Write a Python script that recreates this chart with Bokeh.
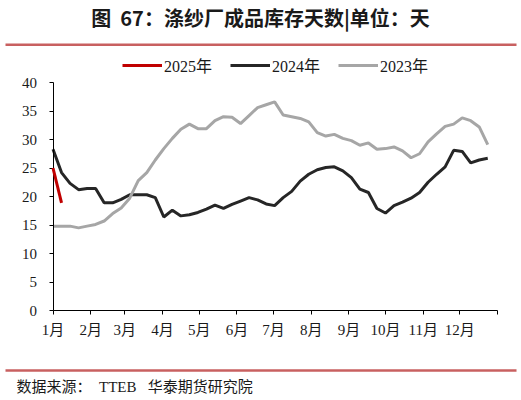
from bokeh.plotting import figure
from bokeh.models import (ColumnDataSource, FixedTicker, Legend, LegendItem,
                          Label, BoxAnnotation, Range1d)
from bokeh.embed import file_html
from bokeh.resources import INLINE

# ---- data ----
month_start_days = [0, 31, 59, 90, 120, 151, 181, 212, 243, 273, 304, 334, 365]
month_labels = ["1月", "2月", "3月", "4月", "5月", "6月", "7月", "8月",
                "9月", "10月", "11月", "12月", ""]
y_ticks = [0, 5, 10, 15, 20, 25, 30, 35, 40]

s2025 = [25.0, 18.9]
s2024 = [28.3, 24.2, 22.3, 21.2, 21.4, 21.4, 18.9, 18.9, 19.5, 20.3, 20.3,
         20.3, 19.8, 16.4, 17.6, 16.6, 16.8, 17.2, 17.8, 18.5, 17.9, 18.6,
         19.2, 19.8, 19.4, 18.7, 18.4, 19.8, 20.9, 22.7, 23.9, 24.7, 25.1,
         25.2, 24.5, 23.3, 21.3, 20.7, 17.9, 17.1, 18.4, 19.0, 19.7, 20.7,
         22.5, 23.9, 25.2, 28.1, 27.9, 25.9, 26.4, 26.7]
s2023 = [14.8, 14.8, 14.8, 14.5, 14.8, 15.1, 15.7, 17.0, 18.0, 19.7, 22.8,
         24.2, 26.4, 28.4, 30.2, 31.8, 32.7, 31.9, 31.9, 33.3, 34.0, 33.9,
         32.8, 34.2, 35.6, 36.1, 36.6, 34.3, 34.0, 33.7, 33.1, 31.2, 30.6,
         30.9, 30.2, 29.8, 29.0, 29.4, 28.3, 28.4, 28.7, 28.0, 26.8, 27.5,
         29.6, 31.0, 32.3, 32.7, 33.8, 33.3, 32.2, 29.1]
series_names = ["2025年", "2024年", "2023年"]
series_colors = ["#C00000", "#262626", "#A6A6A6"]

title_text = "图\u00a0 67：涤纱厂成品库存天数|单位：天"
source_text = "数据来源：\u00a0\u00a0TTEB\u00a0\u00a0\u00a0华泰期货研究院"

SERIF = "'Liberation Serif', 'Noto Sans CJK SC'"
CJK = "'Noto Sans CJK SC'"

W, H = 521, 400
# frame covers the whole canvas; axes are drawn at fixed locations with bounds
px_per_day = (497 - 52.5) / 365.0
px_per_unit = (310 - 82) / 40.0
x0 = -52.5 / px_per_day
x1 = 365 + (W - 497) / px_per_day
y0 = -(H - 310) / px_per_unit
y1 = 40 + 82 / px_per_unit

p = figure(width=W, height=H, output_backend="svg", toolbar_location=None,
           x_range=Range1d(x0, x1), y_range=Range1d(y0, y1),
           min_border=0)
p.outline_line_color = None
p.xgrid.visible = False
p.ygrid.visible = False
p.background_fill_color = "white"
p.border_fill_color = "white"

renderers = []
for vals, color in zip([s2025, s2024, s2023], series_colors):
    src = ColumnDataSource(dict(x=[7 * i for i in range(len(vals))], y=vals))
    r = p.line("x", "y", source=src, line_color=color, line_width=3)
    renderers.append(r)
renderers[0].level = "overlay"

# axes
p.xaxis.ticker = FixedTicker(ticks=month_start_days)
p.xaxis.major_label_overrides = {d: l for d, l in zip(month_start_days, month_labels)}
p.yaxis.ticker = FixedTicker(ticks=y_ticks)
p.xaxis.fixed_location = 0
p.yaxis.fixed_location = 0
p.xaxis.bounds = (0, 365)
p.yaxis.bounds = (0, 40)
for ax in (p.xaxis[0], p.yaxis[0]):
    ax.axis_line_color = "black"
    ax.axis_line_width = 1
    ax.major_tick_line_color = "black"
    ax.major_tick_in = 0
    ax.major_tick_out = 4
    ax.minor_tick_line_color = None
    ax.major_label_text_font = SERIF
    ax.major_label_text_font_size = "15px"
    ax.major_label_text_color = "#1a1a1a"
p.xaxis.major_label_standoff = 7
p.yaxis.major_label_standoff = 12

legend = Legend(items=[LegendItem(label=n, renderers=[r])
                       for n, r in zip(series_names, renderers)],
                orientation="horizontal", location=(122, H - 77),
                glyph_width=40, glyph_height=16, label_height=16,
                label_standoff=2, spacing=18, padding=0, margin=0,
                border_line_color=None, background_fill_alpha=0,
                label_text_font=SERIF, label_text_font_size="16px",
                label_text_color="#1a1a1a")
p.add_layout(legend)

# title, rules and source (screen coordinates, origin bottom-left)
p.add_layout(Label(x=260, y=H - 17, x_units="screen", y_units="screen",
                   text=title_text, text_align="center", text_baseline="middle",
                   text_font=CJK, text_font_style="bold",
                   text_font_size="20px", text_color="#1a1a1a"))
rule_color = "#C86060"
p.add_layout(BoxAnnotation(left=5, right=516, top=H - 43, bottom=H - 45.5,
                           left_units="screen", right_units="screen",
                           top_units="screen", bottom_units="screen",
                           fill_color=rule_color, fill_alpha=1, line_color=None))
p.add_layout(BoxAnnotation(left=5, right=516, top=H - 368.8, bottom=H - 371.2,
                           left_units="screen", right_units="screen",
                           top_units="screen", bottom_units="screen",
                           fill_color=rule_color, fill_alpha=1, line_color=None))
p.add_layout(Label(x=16, y=H - 386, x_units="screen", y_units="screen",
                   text=source_text, text_align="left", text_baseline="middle",
                   text_font=SERIF, text_font_size="15px",
                   text_color="#1a1a1a"))

open("out.html", "w").write(file_html(p, INLINE))
